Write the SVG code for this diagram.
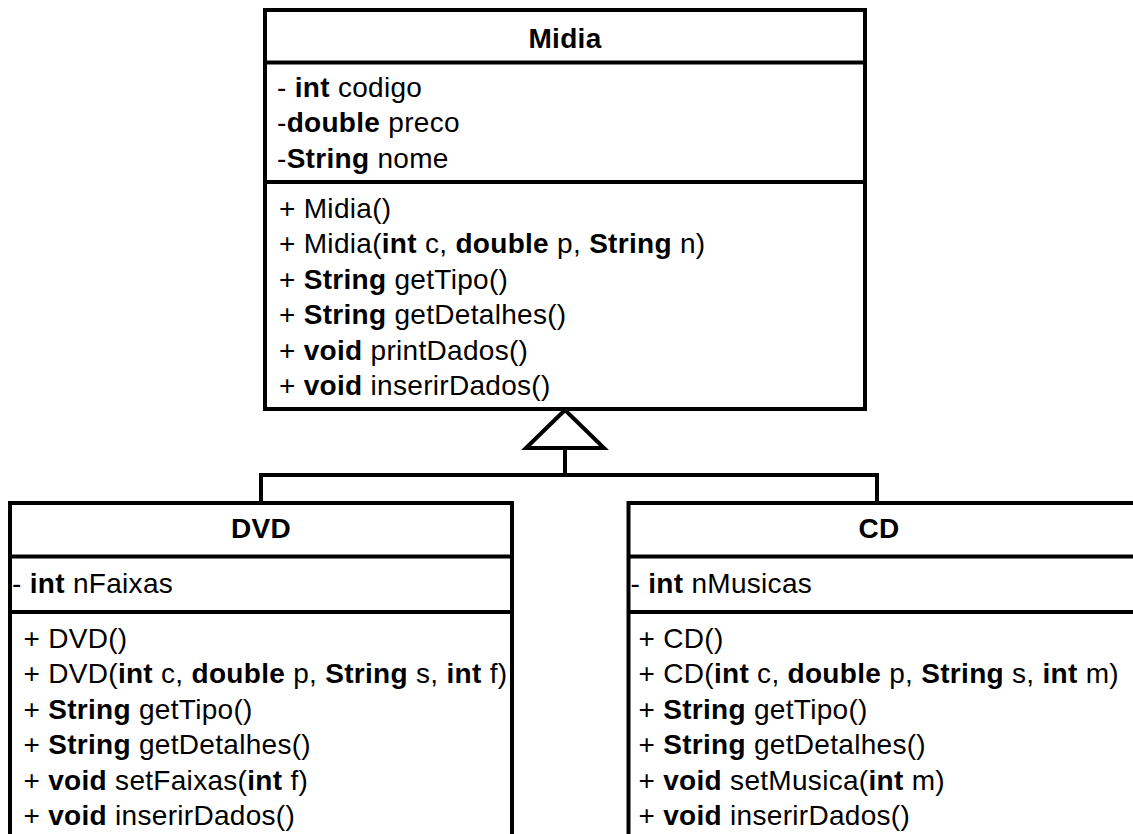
<svg xmlns="http://www.w3.org/2000/svg" width="1133" height="834" viewBox="0 0 1133 834">
  <style>
    .box { fill: #ffffff; stroke: #000000; stroke-width: 4; }
    .sep { stroke: #000000; stroke-width: 4; fill: none; }
    .edge { stroke: #000000; stroke-width: 4; fill: none; }
    .head { fill: #ffffff; stroke: #000000; stroke-width: 4; stroke-linejoin: miter; }
    text { font-family: "Liberation Sans", Arial, Helvetica, sans-serif; font-size: 28px; fill: #000000; letter-spacing: 0.3px; }
    .title { font-weight: bold; text-anchor: middle; }
    .b { font-weight: bold; }
  </style>
  <rect width="1133" height="834" fill="#ffffff"/>

  <!-- inheritance connectors -->
  <g id="connectors">
    <polyline class="edge" points="261,503 261,475 877,475 877,503"/>
    <line class="edge" x1="565" y1="448" x2="565" y2="475"/>
    <polygon class="head" points="565,410 526,448 604,448"/>
  </g>

  <!-- superclass -->
  <g id="midia">
    <rect class="box" x="265" y="10" width="600" height="399"/>
    <line class="sep" x1="265" y1="62.5" x2="865" y2="62.5"/>
    <line class="sep" x1="265" y1="182" x2="865" y2="182"/>
    <text class="title" x="565" y="47.5">Midia</text>
    <text x="277" y="96.5">- <tspan class="b">int</tspan> codigo</text>
    <text x="277" y="132">-<tspan class="b">double</tspan> preco</text>
    <text x="277" y="167.5">-<tspan class="b">String</tspan> nome</text>
    <text x="279" y="217.5">+ Midia()</text>
    <text x="279" y="253">+ Midia(<tspan class="b">int</tspan> c, <tspan class="b">double</tspan> p, <tspan class="b">String</tspan> n)</text>
    <text x="279" y="288.5">+ <tspan class="b">String</tspan> getTipo()</text>
    <text x="279" y="324">+ <tspan class="b">String</tspan> getDetalhes()</text>
    <text x="279" y="359.5">+ <tspan class="b">void</tspan> printDados()</text>
    <text x="279" y="395">+ <tspan class="b">void</tspan> inserirDados()</text>
  </g>

  <!-- subclass DVD -->
  <g id="dvd">
    <rect class="box" x="10" y="503" width="502" height="360"/>
    <line class="sep" x1="10" y1="556.5" x2="512" y2="556.5"/>
    <line class="sep" x1="10" y1="612" x2="512" y2="612"/>
    <text class="title" x="261" y="538">DVD</text>
    <text x="12" y="592.5">- <tspan class="b">int</tspan> nFaixas</text>
    <text x="23.5" y="647.5">+ DVD()</text>
    <text x="23.5" y="683">+ DVD(<tspan class="b">int</tspan> c, <tspan class="b">double</tspan> p, <tspan class="b">String</tspan> s, <tspan class="b">int</tspan> f)</text>
    <text x="23.5" y="718.5">+ <tspan class="b">String</tspan> getTipo()</text>
    <text x="23.5" y="754">+ <tspan class="b">String</tspan> getDetalhes()</text>
    <text x="23.5" y="789.5">+ <tspan class="b">void</tspan> setFaixas(<tspan class="b">int</tspan> f)</text>
    <text x="23.5" y="825">+ <tspan class="b">void</tspan> inserirDados()</text>
  </g>

  <!-- subclass CD -->
  <g id="cd">
    <rect class="box" x="628.5" y="503" width="510" height="360"/>
    <line class="sep" x1="628.5" y1="556.5" x2="1138.5" y2="556.5"/>
    <line class="sep" x1="628.5" y1="612" x2="1138.5" y2="612"/>
    <text class="title" x="879" y="538">CD</text>
    <text x="630.5" y="592.5">- <tspan class="b">int</tspan> nMusicas</text>
    <text x="638.5" y="647.5">+ CD()</text>
    <text x="638.5" y="683">+ CD(<tspan class="b">int</tspan> c, <tspan class="b">double</tspan> p, <tspan class="b">String</tspan> s, <tspan class="b">int</tspan> m)</text>
    <text x="638.5" y="718.5">+ <tspan class="b">String</tspan> getTipo()</text>
    <text x="638.5" y="754">+ <tspan class="b">String</tspan> getDetalhes()</text>
    <text x="638.5" y="789.5">+ <tspan class="b">void</tspan> setMusica(<tspan class="b">int</tspan> m)</text>
    <text x="638.5" y="825">+ <tspan class="b">void</tspan> inserirDados()</text>
  </g>
</svg>
